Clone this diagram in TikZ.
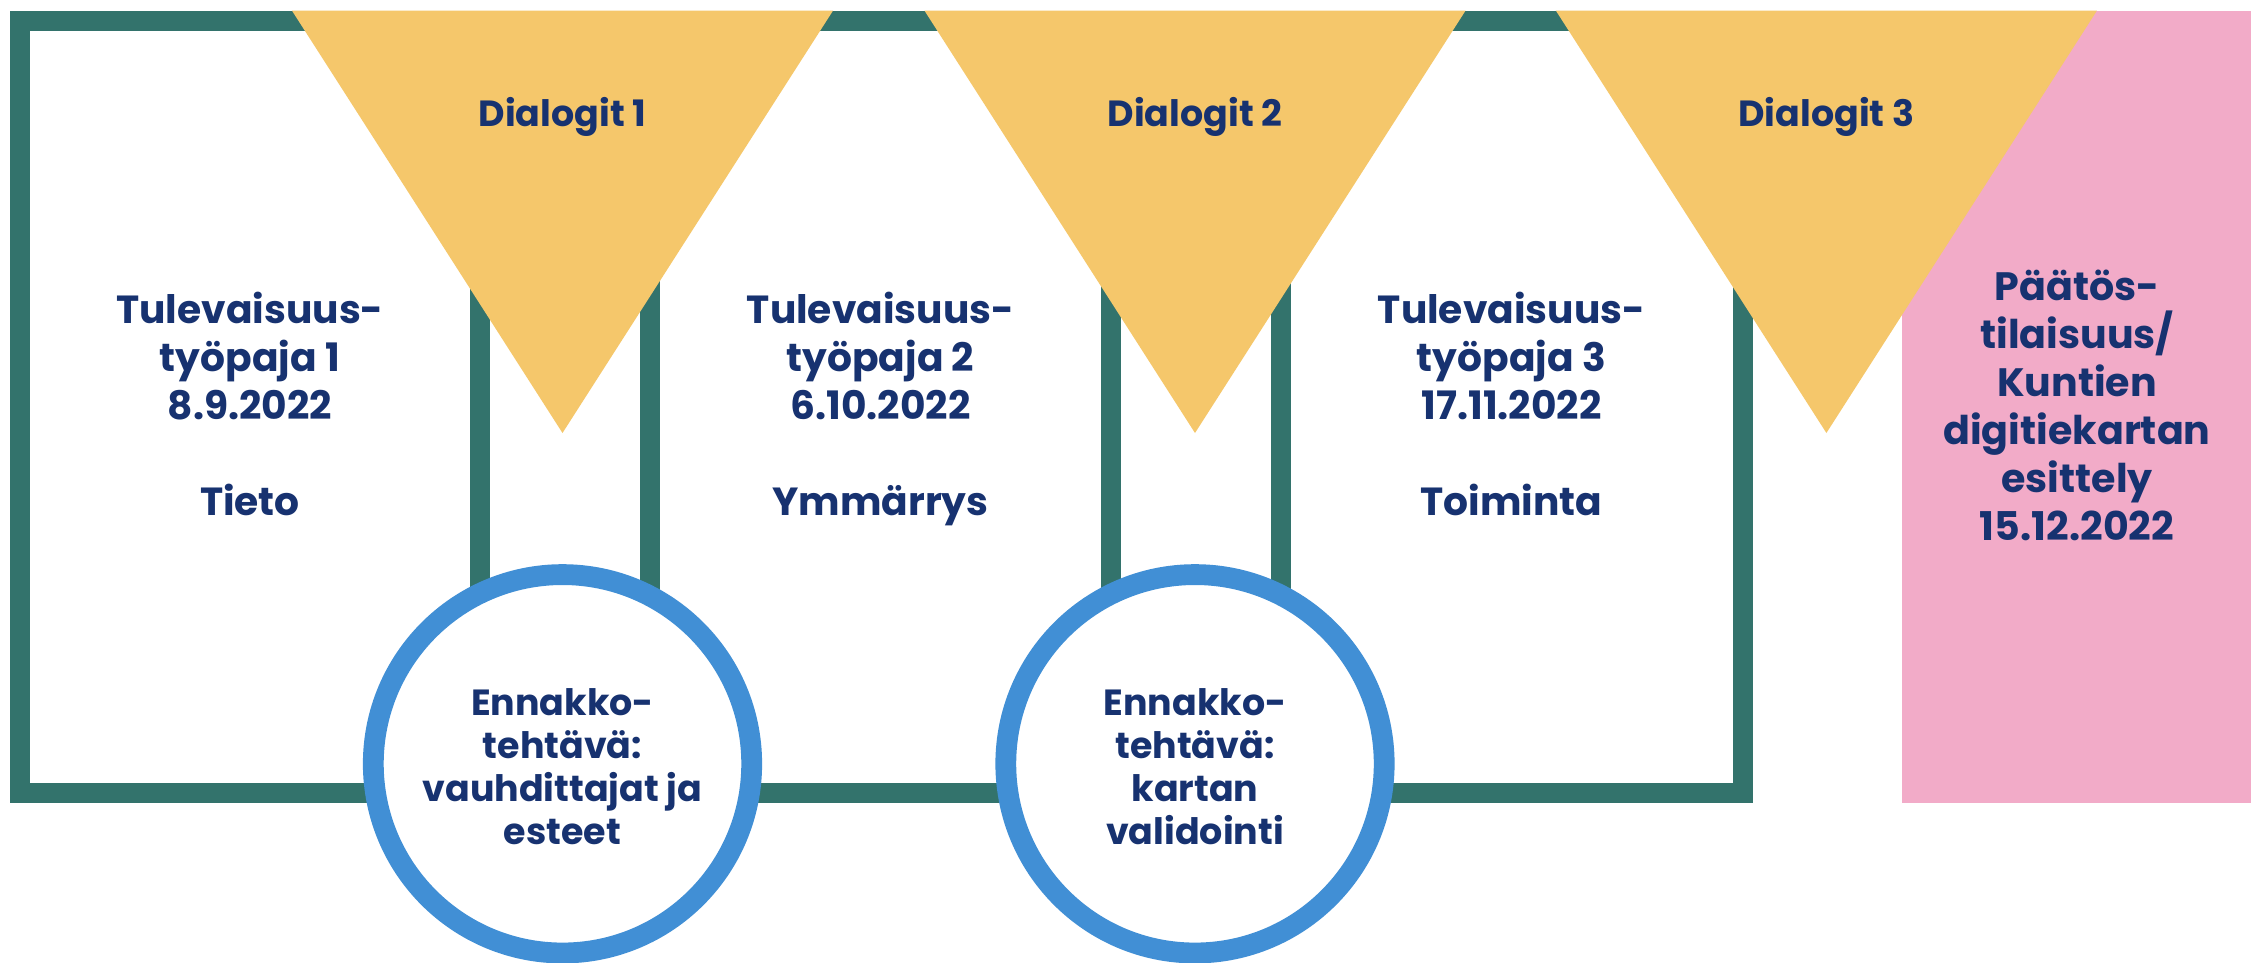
\documentclass[tikz,border=0pt]{standalone}
\usepackage{fontspec}
\setmainfont{Poppins}
\definecolor{frame}{RGB}{51,115,108}
\definecolor{sun}{RGB}{245,199,107}
\definecolor{rose}{RGB}{242,171,200}
\definecolor{ring}{RGB}{65,143,213}
\definecolor{ink}{RGB}{23,50,112}
\begin{document}
\begin{tikzpicture}[x=0.5pt,y=-0.5pt,
  wstext/.style={text=ink,align=center,font=\bfseries\fontsize{19.6}{24}\selectfont},
  dlgtext/.style={text=ink,anchor=base,font=\bfseries\fontsize{18.2}{20}\selectfont},
  tasktext/.style={text=ink,align=center,font=\bfseries\fontsize{18.2}{21.5}\selectfont},
  endtext/.style={text=ink,align=center,font=\bfseries\fontsize{19.8}{24}\selectfont},
  ringline/.style={draw=ring,line width=10.4pt,fill=white},
  framebar/.style={draw=frame,line width=10pt},
  pennant/.style={fill=sun}
]
\useasboundingbox (0,0) rectangle (2251,963);
\fill[white] (0,0) rectangle (2251,963);
% closing event panel
\fill[rose] (1901.8,10.7) rectangle (2251,802.7);
% workshop frame with its dividers
\draw[framebar] (20,20.7) rectangle (1742.7,792.7);
\foreach \x in {480.2,650,1111,1280.9}
  \draw[framebar] (\x,20.7) -- (\x,792.7);
% dialogue pennants
\foreach \c in {562.5,1195,1826.4}
  \fill[pennant] (\c-270.5,10.7) -- (\c+270.5,10.7) -- (\c,433) -- cycle;
% pre-assignment rings
\draw[ringline] (562.5,763.8) circle[radius=189.2];
\draw[ringline] (1195,763.8) circle[radius=189.2];
% labels
\node[dlgtext] (d1) at (562.5,127) {Dialogit 1};
\node[dlgtext] (d2) at (1195,127) {Dialogit 2};
\node[dlgtext] (d3) at (1826.4,127) {Dialogit 3};
\node[wstext] (w1) at (250,404) {Tulevaisuus-\\työpaja 1\\8.9.2022\\[24pt]Tieto};
\node[wstext] (w2) at (880.5,409) {Tulevaisuus-\\työpaja 2\\6.10.2022\\[24pt]Ymmärrys};
\node[wstext] (w3) at (1511.5,404) {Tulevaisuus-\\työpaja 3\\17.11.2022\\[24pt]Toiminta};
\node[tasktext] (t1) at (562.5,767) {Ennakko-\\tehtävä:\\vauhdittajat ja\\esteet};
\node[tasktext] (t2) at (1195,767) {Ennakko-\\tehtävä:\\kartan\\validointi};
\node[endtext] (e1) at (2077,405) {Päätös-\\tilaisuus/\\Kuntien\\digitiekartan\\esittely\\15.12.2022};
\end{tikzpicture}
\end{document}
